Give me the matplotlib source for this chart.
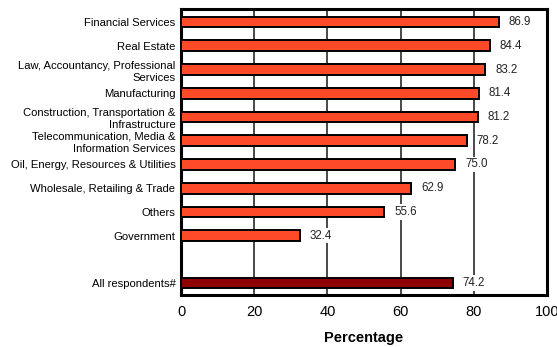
import numpy as np
import matplotlib
matplotlib.use("Agg")
import matplotlib.pyplot as plt

plt.rcParams["font.family"] = ["Liberation Sans", "DejaVu Sans"]

# Industry breakdown, top to bottom, plus the overall figure
categories = [
    "Financial Services",
    "Real Estate",
    "Law, Accountancy, Professional\nServices",
    "Manufacturing",
    "Construction, Transportation &\nInfrastructure",
    "Telecommunication, Media &\nInformation Services",
    "Oil, Energy, Resources & Utilities",
    "Wholesale, Retailing & Trade",
    "Others",
    "Government",
]
values = [86.9, 84.4, 83.2, 81.4, 81.2, 78.2, 75.0, 62.9, 55.6, 32.4]
overall_label = "All respondents#"
overall_value = 74.2

xticks = [0, 20, 40, 60, 80, 100]

fig = plt.figure(figsize=(5.57, 3.47), dpi=100)
ax = fig.add_axes([0.325, 0.150, 0.657, 0.824])

ypos = np.arange(len(categories))
overall_pos = len(categories) + 1

ax.barh(ypos, values, height=0.45, color="#FF4A2A", edgecolor="black",
        linewidth=1.4, zorder=3)
ax.barh([overall_pos], [overall_value], height=0.45, color="#8E0000",
        edgecolor="black", linewidth=1.4, zorder=3)

# value labels sit on white boxes so they cut through the grid lines
for y, v in list(zip(ypos, values)) + [(overall_pos, overall_value)]:
    ax.annotate(f"{v:.1f}", xy=(v, y), xytext=(7, 0), textcoords="offset points",
                ha="left", va="center", fontsize=8.3, color="#222222", zorder=4,
                bbox=dict(boxstyle="square,pad=0.15", fc="white", ec="none"))

for x in xticks[1:-1]:
    ax.axvline(x, color="#2a2a2a", linewidth=1.2, zorder=1)

ax.set_xlim(0, 100)
ax.set_ylim(overall_pos + 0.5, -0.55)
ax.set_xticks(xticks)
ax.set_yticks(list(ypos) + [overall_pos])
ax.set_yticklabels(categories + [overall_label], fontsize=8.1, linespacing=1.3)
ax.tick_params(axis="x", length=0, pad=7, labelsize=10.5)
ax.tick_params(axis="y", length=0, pad=4)
ax.set_xlabel("Percentage", fontsize=10.5, fontweight="bold", labelpad=9)

for side in ["left", "right", "top", "bottom"]:
    ax.spines[side].set_linewidth(2.2)
    ax.spines[side].set_color("black")

fig.savefig("out.png", dpi=100)
